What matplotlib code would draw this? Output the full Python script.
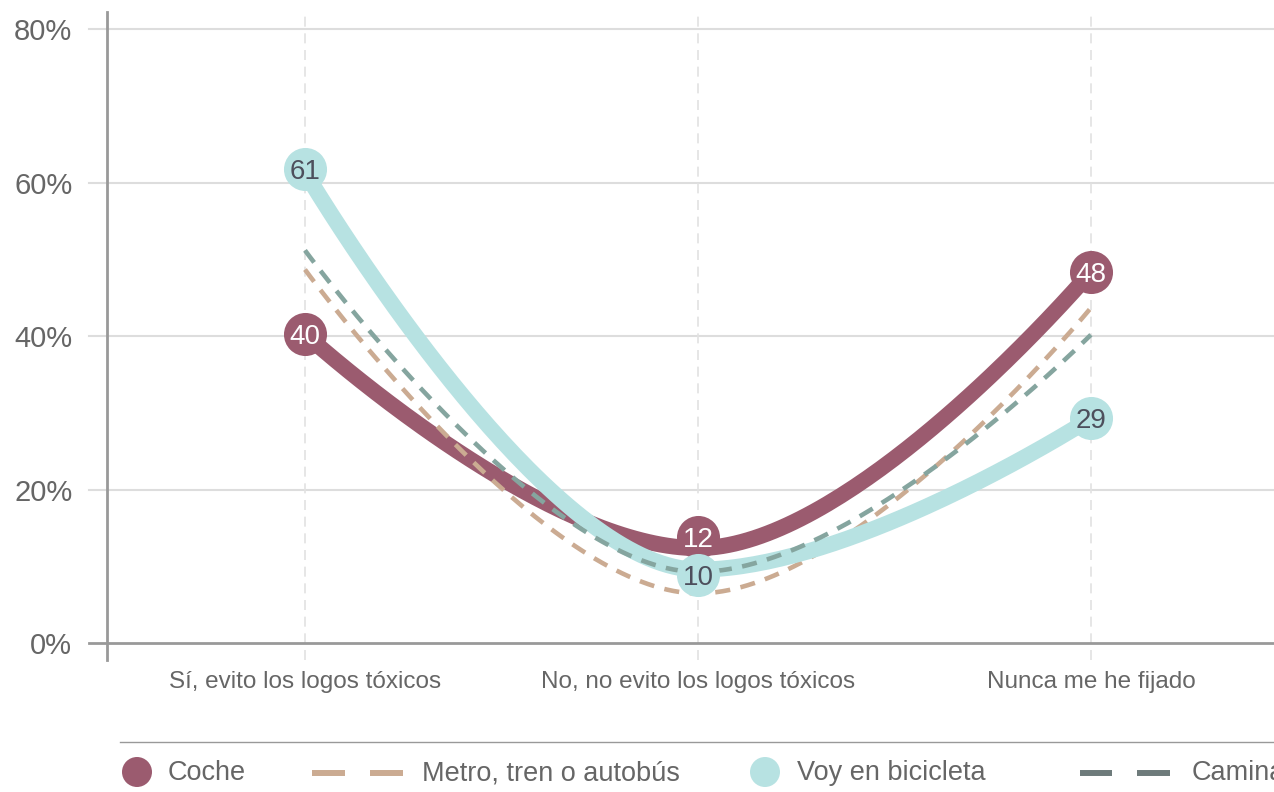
import numpy as np
import matplotlib.pyplot as plt
import matplotlib.transforms as mtransforms
from matplotlib.patches import Circle

plt.rcParams['font.family'] = ['Liberation Sans', 'DejaVu Sans']

# datos
categorias = ['Sí, evito los logos tóxicos', 'No, no evito los logos tóxicos', 'Nunca me he fijado']
coche = [40.3, 12.4, 48.4]
metro = [48.7, 6.5, 43.7]
bici = [61.4, 9.6, 29.3]
camino = [51.2, 9.3, 40.2]
y_ticks = [0, 20, 40, 60, 80]

# colores
c_coche = '#9b5b6f'
c_metro = '#cbab92'
c_bici = '#b7e2e2'
c_camino = '#85a59f'
c_camino_leg = '#6e7b7b'
gris = '#666666'


def spline(xs, ys, n=80):
    # curva tipo "spline" de Highcharts (bezier con puntos de control)
    xs = np.asarray(xs, float)
    ys = np.asarray(ys, float)
    k = len(xs)
    lc = [(xs[i], ys[i]) for i in range(k)]
    rc = [(xs[i], ys[i]) for i in range(k)]
    for i in range(1, k - 1):
        lcx = (1.5 * xs[i] + xs[i - 1]) / 2.5
        lcy = (1.5 * ys[i] + ys[i - 1]) / 2.5
        rcx = (1.5 * xs[i] + xs[i + 1]) / 2.5
        rcy = (1.5 * ys[i] + ys[i + 1]) / 2.5
        corr = (rcy - lcy) * (rcx - xs[i]) / (rcx - lcx) + ys[i] - rcy
        lcy += corr
        rcy += corr
        if lcy > ys[i - 1] and lcy > ys[i]:
            lcy = max(ys[i - 1], ys[i]); rcy = 2 * ys[i] - lcy
        elif lcy < ys[i - 1] and lcy < ys[i]:
            lcy = min(ys[i - 1], ys[i]); rcy = 2 * ys[i] - lcy
        if rcy > ys[i + 1] and rcy > ys[i]:
            rcy = max(ys[i + 1], ys[i]); lcy = 2 * ys[i] - rcy
        elif rcy < ys[i + 1] and rcy < ys[i]:
            rcy = min(ys[i + 1], ys[i]); lcy = 2 * ys[i] - rcy
        lc[i] = (lcx, lcy)
        rc[i] = (rcx, rcy)
    t = np.linspace(0, 1, n)[:, None]
    out = []
    for i in range(k - 1):
        p0 = np.array([xs[i], ys[i]])
        p1 = np.array(rc[i])
        p2 = np.array(lc[i + 1])
        p3 = np.array([xs[i + 1], ys[i + 1]])
        b = ((1 - t) ** 3) * p0 + 3 * ((1 - t) ** 2) * t * p1 + 3 * (1 - t) * t ** 2 * p2 + t ** 3 * p3
        out.append(b if i == 0 else b[1:])
    out = np.vstack(out)
    return out[:, 0], out[:, 1]


fig = plt.figure(figsize=(12.74, 7.92), dpi=100)
ax = fig.add_axes([107 / 1274, 132 / 792, 1167 / 1274, 648 / 792])
ax.set_xlim(-0.5038, 2.466)
ax.set_ylim(-2.18, 82.26)

x = np.arange(len(categorias))

# rejilla
for v in y_ticks[1:]:
    ax.plot([-0.0154, 1], [v, v], transform=ax.get_yaxis_transform(), color='#dddddd',
            lw=1.5, clip_on=False, zorder=0)
ax.plot([-0.0154, 1], [0, 0], transform=ax.get_yaxis_transform(), color='#999999',
        lw=2, clip_on=False, zorder=1)
for i in x:
    ax.plot([i, i], [0, 1], transform=ax.get_xaxis_transform(), color='#e2e2e2',
            lw=1.2, dashes=(6, 4), zorder=0)

# series
sx, sy = spline(x, coche)
ax.plot(sx, sy, color=c_coche, lw=11.5, solid_capstyle='round', zorder=3)
sx, sy = spline(x, metro)
ax.plot(sx, sy, color=c_metro, lw=3.3, linestyle=(0, (3.3, 2.3)), zorder=4)
sx, sy = spline(x, bici)
ax.plot(sx, sy, color=c_bici, lw=11.5, solid_capstyle='round', zorder=5)
sx, sy = spline(x, camino)
ax.plot(sx, sy, color=c_camino, lw=3.3, linestyle=(0, (3.3, 2.3)), zorder=6)

# etiquetas de datos (circulos)
off_coche = [0, 8, 0]
off_bici = [2, -3.6, 0]
for serie, offs, col, tcol, z in [(coche, off_coche, c_coche, 'white', 10),
                                  (bici, off_bici, c_bici, '#4d4f5c', 12)]:
    for i, v in enumerate(serie):
        tr = mtransforms.offset_copy(ax.transData, fig=fig, x=0, y=offs[i], units='points')
        ax.plot([i], [v], 'o', ms=31, color=col, mew=0, transform=tr, zorder=z, clip_on=False)
        ax.text(i, v, '%d' % round(v), transform=tr, ha='center', va='center_baseline',
                fontsize=20, color=tcol, zorder=z + 1)

ax.set_yticks(y_ticks)
ax.set_yticklabels(['%d%%' % v for v in y_ticks])
ax.set_xticks(x)
ax.set_xticklabels(categorias)
ax.tick_params(axis='y', length=0, pad=25, labelsize=21, labelcolor=gris)
ax.tick_params(axis='x', length=0, pad=8, labelsize=17.5, labelcolor=gris)
for s in ['top', 'right', 'bottom']:
    ax.spines[s].set_visible(False)
ax.spines['left'].set_color('#999999')
ax.spines['left'].set_linewidth(2)

# leyenda
lax = fig.add_axes([0, 0, 1, 1])
lax.set_xlim(0, 1274)
lax.set_ylim(792, 0)
lax.axis('off')
lax.plot([120, 1274], [742, 742], color='#999999', lw=1)
lax.add_patch(Circle((137, 772), 15, color=c_coche, lw=0))
lax.text(168, 773, 'Coche', va='center', fontsize=19.5, color=gris)
for a, b in [(312, 345), (370, 403)]:
    lax.plot([a, b], [773, 773], color=c_metro, lw=4.3, solid_capstyle='butt')
lax.text(422, 773, 'Metro, tren o autobús', va='center', fontsize=19.5, color=gris)
lax.add_patch(Circle((765, 772), 15, color=c_bici, lw=0))
lax.text(797, 773, 'Voy en bicicleta', va='center', fontsize=19.5, color=gris)
for a, b in [(1080, 1112), (1137, 1170)]:
    lax.plot([a, b], [773, 773], color=c_camino_leg, lw=4.3, solid_capstyle='butt')
lax.text(1192, 773, 'Caminando', va='center', fontsize=19.5, color=gris, clip_on=True)

fig.savefig('out.png', dpi=100)
